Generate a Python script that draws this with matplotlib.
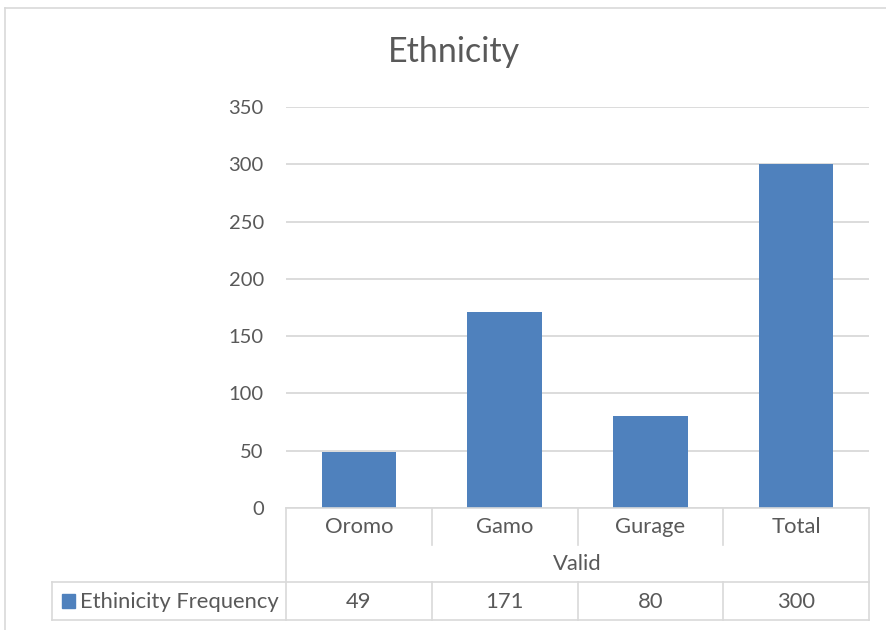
import matplotlib.pyplot as plt
from matplotlib.lines import Line2D
from matplotlib.patches import Rectangle
import matplotlib.transforms as mtransforms

plt.rcParams['font.family'] = ['Lato', 'DejaVu Sans']

# Frequency table
categories = ['Oromo', 'Gamo', 'Gurage', 'Total']
frequency = [49, 171, 80, 300]
group_label = 'Valid'
series_name = 'Ethinicity Frequency'
title = 'Ethnicity'
yticks = [0, 50, 100, 150, 200, 250, 300, 350]

bar_color = '#4F81BD'
text_color = '#595959'
line_color = '#D9D9D9'

W, H = 887, 630
fig = plt.figure(figsize=(W / 100, H / 100), dpi=100)

def fx(px):
    return px / W

def fy(py):
    return 1 - py / H

ax = fig.add_axes([fx(286), fy(508), fx(869) - fx(286), fy(107) - fy(508)])
xs = range(len(categories))
ax.bar(xs, frequency, width=0.51, color=bar_color, zorder=3)
ax.set_xlim(-0.5, len(categories) - 0.5)
ax.set_ylim(0, 350)
ax.set_yticks(yticks)
ax.set_yticklabels([str(t) for t in yticks], fontsize=14.5, color=text_color)
ax.tick_params(axis='y', length=0, pad=16)
ax.set_xticks([])
ax.grid(axis='y', color=line_color, linewidth=1.3, zorder=0)
for s in ax.spines.values():
    s.set_visible(False)

fig.text(fx(454), fy(52), title, fontsize=24.5, color=text_color,
         ha='center', va='center')

# data table under the plot
bt = mtransforms.blended_transform_factory(ax.transData, fig.transFigure)
lw = 1.2
tsize = 15.8

def hline(x0, x1, y):
    fig.add_artist(Line2D([fx(x0), fx(x1)], [fy(y), fy(y)], color=line_color, lw=lw))

def vline(x, y0, y1, trans=None):
    if trans is None:
        fig.add_artist(Line2D([fx(x), fx(x)], [fy(y0), fy(y1)], color=line_color, lw=lw))
    else:
        fig.add_artist(Line2D([x, x], [fy(y0), fy(y1)], color=line_color, lw=lw,
                              transform=trans))

hline(286, 869, 508)
hline(52, 869, 582)
hline(52, 869, 620)
vline(286, 508, 620)
vline(869, 508, 620)
vline(52, 582, 620)
for i in range(1, len(categories)):
    vline(i - 0.5, 508, 545, bt)
    vline(i - 0.5, 582, 620, bt)

for i, (c, v) in enumerate(zip(categories, frequency)):
    fig.text(i, fy(527), c, transform=bt, fontsize=tsize, color=text_color,
             ha='center', va='center')
    fig.text(i, fy(602), str(v), transform=bt, fontsize=tsize, color=text_color,
             ha='center', va='center')
fig.text((len(categories) - 1) / 2, fy(564), group_label, transform=bt,
         fontsize=tsize, color=text_color, ha='center', va='center')

fig.add_artist(Rectangle((fx(62), fy(608)), fx(13), fy(594) - fy(608),
                         color=bar_color, transform=fig.transFigure))
fig.text(fx(80), fy(602), series_name, fontsize=tsize, color=text_color,
         ha='left', va='center')

# chart frame
fig.add_artist(Line2D([fx(5), fx(5)], [fy(8), 0], color=line_color, lw=lw))
fig.add_artist(Line2D([fx(5), 1], [fy(8), fy(8)], color=line_color, lw=lw))

fig.savefig('out.png', dpi=100, facecolor='white')
